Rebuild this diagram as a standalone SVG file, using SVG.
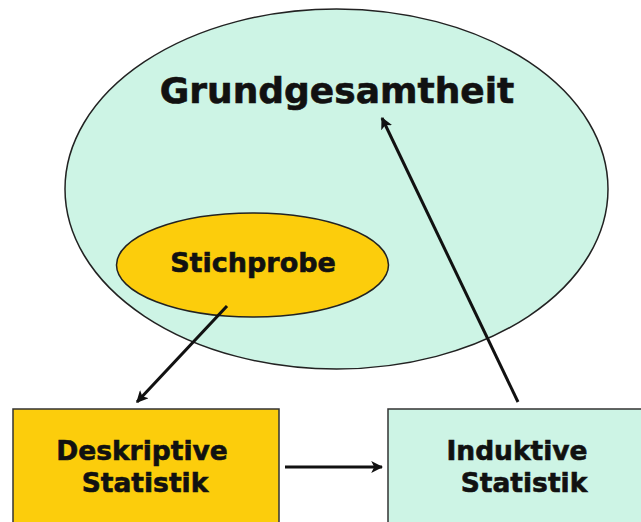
<svg xmlns="http://www.w3.org/2000/svg" width="641" height="522" viewBox="0 0 641 522">
<style>
.lbl{font-family:"DejaVu Sans","Verdana",sans-serif;font-weight:bold;fill:#111;stroke:#111;stroke-width:0.6;text-anchor:middle}
.edge{stroke:#111;stroke-width:3;fill:none;marker-end:url(#ah)}
</style>
<defs>
<marker id="ah" viewBox="0 0 10 10" refX="9" refY="5" markerWidth="4" markerHeight="4" orient="auto" markerUnits="strokeWidth">
<path d="M0,0 L10,5 L0,10 L2.5,5 Z" fill="#111"/>
</marker>
</defs>
<rect width="641" height="522" fill="#fff"/>
<g id="grundgesamtheit">
<ellipse cx="336.5" cy="189" rx="271.5" ry="180" fill="#cdf4e5" stroke="#222" stroke-width="1.5"/>
<text class="lbl" x="337" y="103" font-size="36">Grundgesamtheit</text>
</g>
<g id="stichprobe">
<ellipse cx="252.5" cy="265" rx="136" ry="52" fill="#fccd0c" stroke="#222" stroke-width="1.5"/>
<text class="lbl" x="253" y="272" font-size="27">Stichprobe</text>
</g>
<g id="deskriptive">
<rect x="13" y="409" width="266" height="130" fill="#fccd0c" stroke="#333" stroke-width="1.5"/>
<text class="lbl" x="142" y="460" font-size="26.5">Deskriptive</text>
<text class="lbl" x="145" y="492" font-size="26.5">Statistik</text>
</g>
<g id="induktive">
<rect x="388" y="409" width="270" height="130" fill="#cdf4e5" stroke="#333" stroke-width="1.5"/>
<text class="lbl" x="517" y="460" font-size="26.5">Induktive</text>
<text class="lbl" x="524" y="492" font-size="26.5">Statistik</text>
</g>
<g id="connectors">
<line class="edge" x1="227" y1="306" x2="137" y2="402"/>
<line class="edge" x1="285" y1="467" x2="382" y2="467"/>
<line class="edge" x1="518" y1="402" x2="382" y2="118"/>
</g>
</svg>
